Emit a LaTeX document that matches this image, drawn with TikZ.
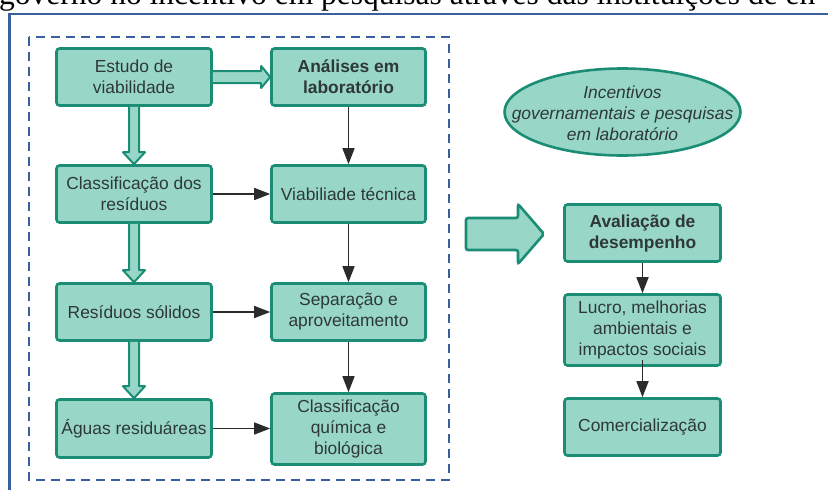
\documentclass[tikz,border=0pt]{standalone}
\usepackage{fontspec}
\setmainfont{Liberation Sans}
\newfontfamily\serifft{Liberation Serif}
\usetikzlibrary{arrows.meta,shapes.geometric,calc}
\definecolor{boxfill}{HTML}{98D7C8}
\definecolor{boxline}{HTML}{1A8D74}
\definecolor{txt}{HTML}{2E3836}
\definecolor{frameblue}{HTML}{3A5F9F}
\definecolor{arr}{HTML}{2B2B2B}
\tikzset{
  stepbox/.style={rectangle, rounded corners=3pt, draw=boxline, fill=boxfill,
    line width=2.6pt, text=txt, align=center, inner sep=0pt,
    font=\fontsize{17.4}{21}\selectfont},
  boldbox/.style={stepbox, font=\fontsize{17.4}{21}\selectfont\bfseries},
  blk/.style={draw=arr, line width=1.5pt, -{Triangle[length=16pt,width=12pt]}},
  harrow/.style={draw=boxline, fill=boxfill, line width=2pt, line join=round},
  frameline/.style={draw=frameblue, line width=2.5pt},
}
\newcommand{\vhollow}[2]{\draw[harrow] let \p1=(#1.south), \p2=(#2.north) in
  (\x1-5pt,\y1) -- (\x1-5pt,\y2+12pt) -- (\x1-11pt,\y2+12pt) -- (\x1,\y2)
  -- (\x1+11pt,\y2+12pt) -- (\x1+5pt,\y2+12pt) -- (\x1+5pt,\y1);}
\newcommand{\hhollow}[2]{\draw[harrow] let \p1=(#1.east), \p2=(#2.west) in
  (\x1,\y1+6pt) -- (\x2-9pt,\y1+6pt) -- (\x2-9pt,\y1+11pt) -- (\x2,\y1)
  -- (\x2-9pt,\y1-11pt) -- (\x2-9pt,\y1-6pt) -- (\x1,\y1-6pt);}
\begin{document}
\begin{tikzpicture}[x=1pt,y=-1pt]
\useasboundingbox (0,0) rectangle (828,490);
\clip (0,0) rectangle (828,490);
\fill[white] (0,0) rectangle (828,490);

\node[anchor=base west, inner sep=0pt, font=\serifft\fontsize{31.5}{32}\selectfont] (head) at (-1,4.5)
  {governo no incentivo em pesquisas através das instituições de en};

\draw[frameline] (9.5,500) -- (9.5,14) -- (840,14);
\draw[frameline, dash pattern=on 9pt off 6pt] (29,37) rectangle (449,480);

% left column
\node[stepbox, minimum width=155pt, minimum height=57pt] (estudo) at (134,77) {Estudo de\\viabilidade};
\node[stepbox, minimum width=155pt, minimum height=57pt] (classif) at (134,194) {Classificação dos\\resíduos};
\node[stepbox, minimum width=155pt, minimum height=57pt] (solidos) at (134,312) {Resíduos sólidos};
\node[stepbox, minimum width=155pt, minimum height=58pt] (aguas) at (134,428.5) {Águas residuáreas};

% middle column
\node[boldbox, minimum width=154pt, minimum height=57pt] (analises) at (348.5,77) {Análises em\\laboratório};
\node[stepbox, minimum width=154pt, minimum height=57pt] (viab) at (348.5,194) {Viabiliade técnica};
\node[stepbox, minimum width=154pt, minimum height=57pt] (separ) at (348.5,312) {Separação e\\aproveitamento};
\node[stepbox, minimum width=154pt, minimum height=71pt] (quim) at (348.5,429) {Classificação\\química e\\biológica};

% hollow arrows
\hhollow{estudo}{analises}
\vhollow{estudo}{classif}
\vhollow{classif}{solidos}
\vhollow{solidos}{aguas}

% black arrows
\draw[blk] (classif) -- (viab);
\draw[blk] (solidos) -- (separ);
\draw[blk] (aguas.east) -- (aguas.east -| quim.west);
\draw[blk] (analises) -- (viab);
\draw[blk] (viab) -- (separ);
\draw[blk] (separ) -- (quim);

% ellipse
\node[ellipse, draw=boxline, fill=boxfill, line width=2.6pt, minimum width=236pt,
  minimum height=87pt, inner sep=0pt] (incell) at (622.5,112) {};
\node[text=txt, align=center, inner sep=0pt, font=\fontsize{17.4}{21}\selectfont\itshape]
  (inc) at (622.5,113) {Incentivos\\governamentais e pesquisas\\em laboratório};

% big arrow
\draw[draw=boxline, fill=boxfill, line width=2.6pt, rounded corners=2pt]
  (466,218) -- (518,218) -- (518,204) -- (544,234) -- (518,264) -- (518,250) -- (466,250) -- cycle;

% right column
\node[boldbox, minimum width=156pt, minimum height=57pt] (aval) at (642.5,233) {Avaliação de\\desempenho};
\node[stepbox, minimum width=156pt, minimum height=71pt] (lucro) at (642.5,330) {Lucro, melhorias\\ambientais e\\impactos sociais};
\node[stepbox, minimum width=156pt, minimum height=57pt] (comerc) at (642.5,427) {Comercialização};

\draw[blk] (aval) -- (lucro);
\draw[blk] ([yshift=7pt]lucro.south) -- (comerc);
\end{tikzpicture}
\end{document}
